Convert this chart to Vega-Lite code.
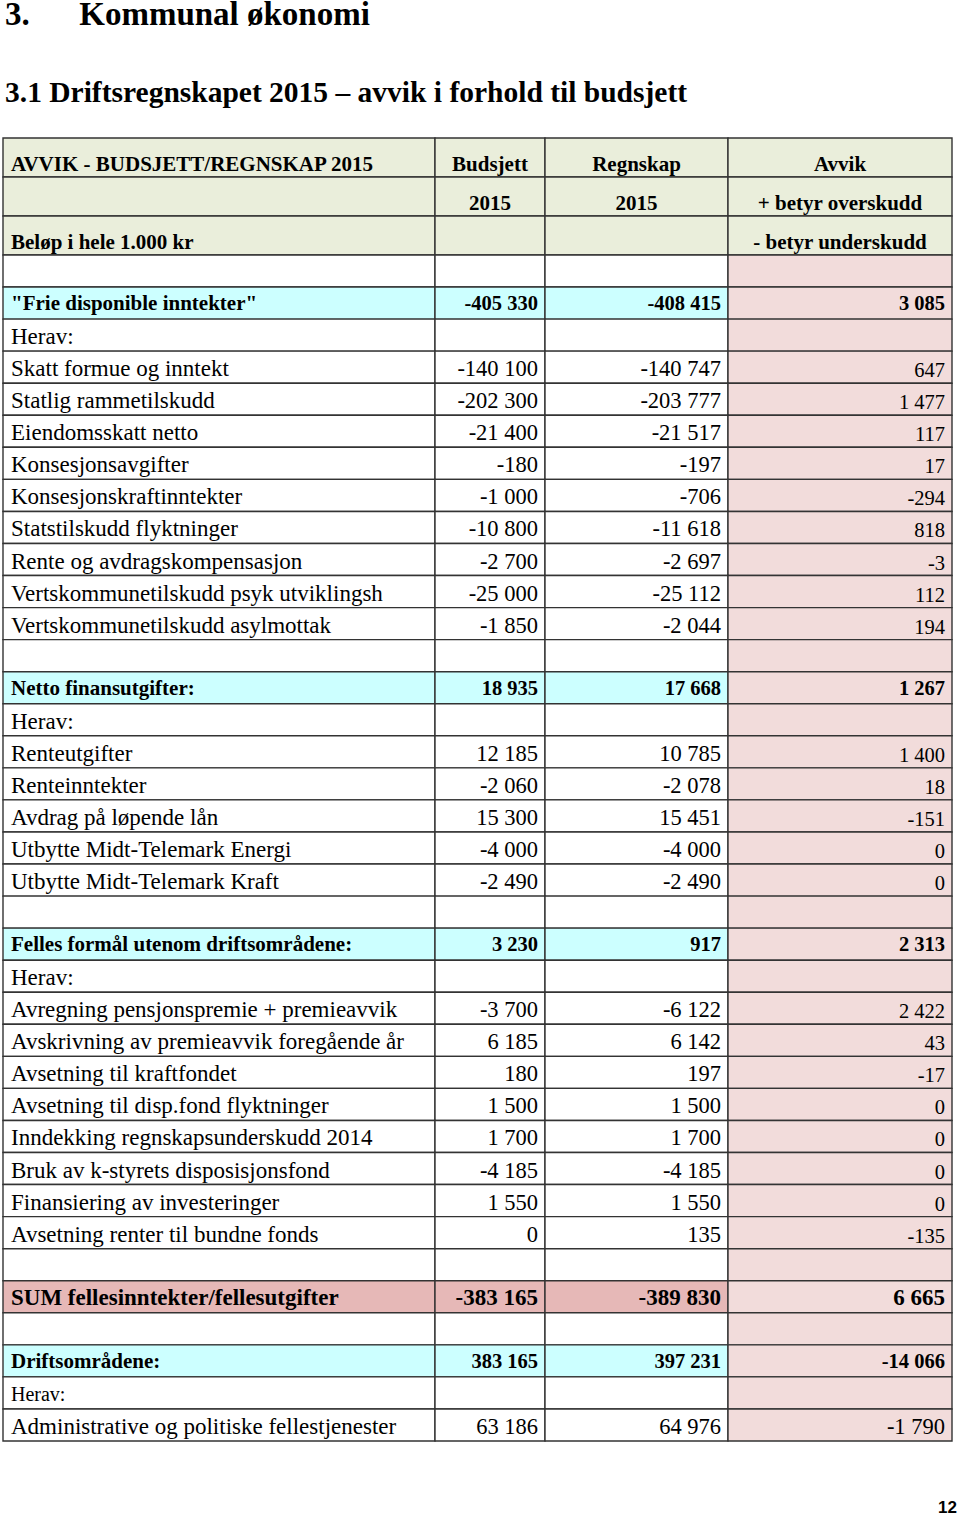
{
  "$schema": "https://vega.github.io/schema/vega-lite/v6.json",
  "width": 960,
  "height": 1516,
  "autosize": "none",
  "padding": 0,
  "background": "#ffffff",
  "config": {
    "view": {"stroke": null},
    "locale": {"number": {"decimal": ",", "thousands": "\u00a0", "grouping": [3], "currency": ["", " kr"], "minus": "-"}},
    "text": {"font": "Liberation Serif", "color": "#000000"}
  },
  "datasets": {
    "cols": [
      {"key": "label", "c0": 0, "c1": 1, "cm": 0.5},
      {"key": "b", "c0": 1, "c1": 2, "cm": 1.5},
      {"key": "rg", "c0": 2, "c1": 3, "cm": 2.5},
      {"key": "a", "c0": 3, "c1": 4, "cm": 3.5}
    ],
    "head": [
      {"hr": 1, "label": "AVVIK - BUDSJETT/REGNSKAP 2015", "b": "Budsjett", "rg": "Regnskap", "a": "Avvik"},
      {"hr": 2, "b": "2015", "rg": "2015", "a": "+ betyr overskudd"},
      {"hr": 3, "label": "Beløp i hele 1.000 kr", "a": "- betyr underskudd"}
    ],
    "body": [
      {"r": 4, "kind": "blank"},
      {"r": 5, "kind": "section", "label": "\"Frie disponible inntekter\"", "b": -405330, "rg": -408415, "a": 3085},
      {"r": 6, "kind": "herav", "label": "Herav:"},
      {"r": 7, "kind": "item", "label": "Skatt formue og inntekt", "b": -140100, "rg": -140747, "a": 647},
      {"r": 8, "kind": "item", "label": "Statlig rammetilskudd", "b": -202300, "rg": -203777, "a": 1477},
      {"r": 9, "kind": "item", "label": "Eiendomsskatt netto", "b": -21400, "rg": -21517, "a": 117},
      {"r": 10, "kind": "item", "label": "Konsesjonsavgifter", "b": -180, "rg": -197, "a": 17},
      {"r": 11, "kind": "item", "label": "Konsesjonskraftinntekter", "b": -1000, "rg": -706, "a": -294},
      {"r": 12, "kind": "item", "label": "Statstilskudd flyktninger", "b": -10800, "rg": -11618, "a": 818},
      {"r": 13, "kind": "item", "label": "Rente og avdragskompensasjon", "b": -2700, "rg": -2697, "a": -3},
      {"r": 14, "kind": "item", "label": "Vertskommunetilskudd psyk utviklingsh", "b": -25000, "rg": -25112, "a": 112},
      {"r": 15, "kind": "item", "label": "Vertskommunetilskudd asylmottak", "b": -1850, "rg": -2044, "a": 194},
      {"r": 16, "kind": "blank"},
      {"r": 17, "kind": "section", "label": "Netto finansutgifter:", "b": 18935, "rg": 17668, "a": 1267},
      {"r": 18, "kind": "herav", "label": "Herav:"},
      {"r": 19, "kind": "item", "label": "Renteutgifter", "b": 12185, "rg": 10785, "a": 1400},
      {"r": 20, "kind": "item", "label": "Renteinntekter", "b": -2060, "rg": -2078, "a": 18},
      {"r": 21, "kind": "item", "label": "Avdrag på løpende lån", "b": 15300, "rg": 15451, "a": -151},
      {"r": 22, "kind": "item", "label": "Utbytte Midt-Telemark Energi", "b": -4000, "rg": -4000, "a": 0},
      {"r": 23, "kind": "item", "label": "Utbytte Midt-Telemark Kraft", "b": -2490, "rg": -2490, "a": 0},
      {"r": 24, "kind": "blank"},
      {"r": 25, "kind": "section", "label": "Felles formål utenom driftsområdene:", "b": 3230, "rg": 917, "a": 2313},
      {"r": 26, "kind": "herav", "label": "Herav:"},
      {"r": 27, "kind": "item", "label": "Avregning pensjonspremie + premieavvik", "b": -3700, "rg": -6122, "a": 2422},
      {"r": 28, "kind": "item", "label": "Avskrivning av premieavvik foregående år", "b": 6185, "rg": 6142, "a": 43},
      {"r": 29, "kind": "item", "label": "Avsetning til kraftfondet", "b": 180, "rg": 197, "a": -17},
      {"r": 30, "kind": "item", "label": "Avsetning til disp.fond flyktninger", "b": 1500, "rg": 1500, "a": 0},
      {"r": 31, "kind": "item", "label": "Inndekking regnskapsunderskudd 2014", "b": 1700, "rg": 1700, "a": 0},
      {"r": 32, "kind": "item", "label": "Bruk av k-styrets disposisjonsfond", "b": -4185, "rg": -4185, "a": 0},
      {"r": 33, "kind": "item", "label": "Finansiering av investeringer", "b": 1550, "rg": 1550, "a": 0},
      {"r": 34, "kind": "item", "label": "Avsetning renter til bundne fonds", "b": 0, "rg": 135, "a": -135},
      {"r": 35, "kind": "blank"},
      {"r": 36, "kind": "sum", "label": "SUM fellesinntekter/fellesutgifter", "b": -383165, "rg": -389830, "a": 6665},
      {"r": 37, "kind": "blank"},
      {"r": 38, "kind": "section", "label": "Driftsområdene:", "b": 383165, "rg": 397231, "a": -14066},
      {"r": 39, "kind": "herav2", "label": "Herav:"},
      {"r": 40, "kind": "last", "label": "Administrative og politiske fellestjenester", "b": 63186, "rg": 64976, "a": -1790}
    ],
    "titles": [
      {"line": 1, "t": "3.\u00a0\u00a0\u00a0\u00a0\u00a0\u00a0Kommunal økonomi"},
      {"line": 2, "t": "3.1 Driftsregnskapet 2015 – avvik i forhold til budsjett"}
    ],
    "page": [{"line": 3, "t": "12"}]
  },
  "resolve": {"scale": {"y": "independent"}},
  "layer": [
    {
      "layer": [
        {
          "data": {"name": "head"},
          "transform": [
            {"fold": ["label", "b", "rg", "a"], "as": ["key", "val"]},
            {"lookup": "key", "from": {"data": {"name": "cols"}, "key": "key", "fields": ["c0", "c1"]}}
          ],
          "mark": {"type": "rect", "fill": "#eaeedb", "stroke": "#333333", "strokeWidth": 1.4},
          "encoding": {
            "x": {"field": "c0", "type": "quantitative", "scale": {"domain": [0, 1, 2, 3, 4], "range": [3, 435, 545, 728, 952], "zero": false, "nice": false}, "axis": null},
            "x2": {"field": "c1"},
            "y": {"field": "hr", "type": "ordinal", "scale": {"type": "band", "domain": [1, 2, 3], "range": [138, 255], "paddingInner": 0, "paddingOuter": 0}, "axis": null}
          }
        },
        {
          "data": {"name": "head"},
          "transform": [{"filter": "isValid(datum.label)"}],
          "mark": {"type": "text", "align": "left", "dx": 8, "dy": 7, "font": "Liberation Serif", "fontSize": 21, "fontWeight": "bold"},
          "encoding": {
            "x": {"datum": 0, "type": "quantitative", "scale": {"domain": [0, 1, 2, 3, 4], "range": [3, 435, 545, 728, 952], "zero": false, "nice": false}, "axis": null},
            "y": {"field": "hr", "type": "ordinal", "scale": {"type": "band", "domain": [1, 2, 3], "range": [138, 255], "paddingInner": 0, "paddingOuter": 0}, "axis": null},
            "text": {"field": "label"}
          }
        },
        {
          "data": {"name": "head"},
          "transform": [
            {"fold": ["b", "rg", "a"], "as": ["key", "val"]},
            {"filter": "isValid(datum.val)"},
            {"lookup": "key", "from": {"data": {"name": "cols"}, "key": "key", "fields": ["cm"]}}
          ],
          "mark": {"type": "text", "align": "center", "dy": 7, "font": "Liberation Serif", "fontSize": 21, "fontWeight": "bold"},
          "encoding": {
            "x": {"field": "cm", "type": "quantitative", "scale": {"domain": [0, 1, 2, 3, 4], "range": [3, 435, 545, 728, 952], "zero": false, "nice": false}, "axis": null},
            "y": {"field": "hr", "type": "ordinal", "scale": {"type": "band", "domain": [1, 2, 3], "range": [138, 255], "paddingInner": 0, "paddingOuter": 0}, "axis": null},
            "text": {"field": "val"}
          }
        }
      ]
    },
    {
      "layer": [
        {
          "data": {"name": "body"},
          "transform": [
            {"fold": ["label", "b", "rg", "a"], "as": ["key", "val"]},
            {"lookup": "key", "from": {"data": {"name": "cols"}, "key": "key", "fields": ["c0", "c1"]}}
          ],
          "mark": {"type": "rect", "stroke": "#333333", "strokeWidth": 1.4},
          "encoding": {
            "x": {"field": "c0", "type": "quantitative", "scale": {"domain": [0, 1, 2, 3, 4], "range": [3, 435, 545, 728, 952], "zero": false, "nice": false}, "axis": null},
            "x2": {"field": "c1"},
            "y": {"field": "r", "type": "ordinal", "scale": {"type": "band", "domain": [4, 5, 6, 7, 8, 9, 10, 11, 12, 13, 14, 15, 16, 17, 18, 19, 20, 21, 22, 23, 24, 25, 26, 27, 28, 29, 30, 31, 32, 33, 34, 35, 36, 37, 38, 39, 40], "range": [255, 1441], "paddingInner": 0, "paddingOuter": 0}, "axis": null},
            "fill": {
              "condition": [
                {"test": "datum.key == 'a'", "value": "#f2dcdb"},
                {"test": "datum.kind == 'section'", "value": "#ccffff"},
                {"test": "datum.kind == 'sum'", "value": "#e6b8b7"}
              ],
              "value": "#ffffff"
            }
          }
        },
        {
          "data": {"name": "body"},
          "transform": [{"filter": "datum.kind == 'item' || datum.kind == 'herav' || datum.kind == 'herav2' || datum.kind == 'last'"}],
          "mark": {"type": "text", "align": "left", "dx": 8, "dy": 2, "font": "Liberation Serif"},
          "encoding": {
            "x": {"datum": 0, "type": "quantitative", "scale": {"domain": [0, 1, 2, 3, 4], "range": [3, 435, 545, 728, 952], "zero": false, "nice": false}, "axis": null},
            "y": {"field": "r", "type": "ordinal", "scale": {"type": "band", "domain": [4, 5, 6, 7, 8, 9, 10, 11, 12, 13, 14, 15, 16, 17, 18, 19, 20, 21, 22, 23, 24, 25, 26, 27, 28, 29, 30, 31, 32, 33, 34, 35, 36, 37, 38, 39, 40], "range": [255, 1441], "paddingInner": 0, "paddingOuter": 0}, "axis": null},
            "text": {"field": "label"},
            "size": {"condition": {"test": "datum.kind == 'herav2'", "value": 20}, "value": 23}
          }
        },
        {
          "data": {"name": "body"},
          "transform": [{"filter": "datum.kind == 'section' || datum.kind == 'sum'"}],
          "mark": {"type": "text", "align": "left", "dx": 8, "dy": 1, "font": "Liberation Serif", "fontWeight": "bold"},
          "encoding": {
            "x": {"datum": 0, "type": "quantitative", "scale": {"domain": [0, 1, 2, 3, 4], "range": [3, 435, 545, 728, 952], "zero": false, "nice": false}, "axis": null},
            "y": {"field": "r", "type": "ordinal", "scale": {"type": "band", "domain": [4, 5, 6, 7, 8, 9, 10, 11, 12, 13, 14, 15, 16, 17, 18, 19, 20, 21, 22, 23, 24, 25, 26, 27, 28, 29, 30, 31, 32, 33, 34, 35, 36, 37, 38, 39, 40], "range": [255, 1441], "paddingInner": 0, "paddingOuter": 0}, "axis": null},
            "text": {"field": "label"},
            "size": {"condition": {"test": "datum.kind == 'sum'", "value": 23}, "value": 21}
          }
        },
        {
          "data": {"name": "body"},
          "transform": [
            {"filter": "datum.kind == 'item' || datum.kind == 'last'"},
            {"fold": ["b", "rg", "a"], "as": ["key", "val"]},
            {"filter": "isValid(datum.val)"},
            {"filter": "datum.key != 'a' || datum.kind == 'last'"},
            {"lookup": "key", "from": {"data": {"name": "cols"}, "key": "key", "fields": ["c1"]}}
          ],
          "mark": {"type": "text", "align": "right", "dx": -7, "dy": 2, "font": "Liberation Serif", "fontSize": 22.5},
          "encoding": {
            "x": {"field": "c1", "type": "quantitative", "scale": {"domain": [0, 1, 2, 3, 4], "range": [3, 435, 545, 728, 952], "zero": false, "nice": false}, "axis": null},
            "y": {"field": "r", "type": "ordinal", "scale": {"type": "band", "domain": [4, 5, 6, 7, 8, 9, 10, 11, 12, 13, 14, 15, 16, 17, 18, 19, 20, 21, 22, 23, 24, 25, 26, 27, 28, 29, 30, 31, 32, 33, 34, 35, 36, 37, 38, 39, 40], "range": [255, 1441], "paddingInner": 0, "paddingOuter": 0}, "axis": null},
            "text": {"field": "val", "type": "quantitative", "format": ",d"}
          }
        },
        {
          "data": {"name": "body"},
          "transform": [
            {"filter": "datum.kind == 'item'"},
            {"fold": ["a"], "as": ["key", "val"]},
            {"filter": "isValid(datum.val)"},
            {"lookup": "key", "from": {"data": {"name": "cols"}, "key": "key", "fields": ["c1"]}}
          ],
          "mark": {"type": "text", "align": "right", "dx": -7, "dy": 4, "font": "Liberation Serif", "fontSize": 20.5},
          "encoding": {
            "x": {"field": "c1", "type": "quantitative", "scale": {"domain": [0, 1, 2, 3, 4], "range": [3, 435, 545, 728, 952], "zero": false, "nice": false}, "axis": null},
            "y": {"field": "r", "type": "ordinal", "scale": {"type": "band", "domain": [4, 5, 6, 7, 8, 9, 10, 11, 12, 13, 14, 15, 16, 17, 18, 19, 20, 21, 22, 23, 24, 25, 26, 27, 28, 29, 30, 31, 32, 33, 34, 35, 36, 37, 38, 39, 40], "range": [255, 1441], "paddingInner": 0, "paddingOuter": 0}, "axis": null},
            "text": {"field": "val", "type": "quantitative", "format": ",d"}
          }
        },
        {
          "data": {"name": "body"},
          "transform": [
            {"filter": "datum.kind == 'section' || datum.kind == 'sum'"},
            {"fold": ["b", "rg", "a"], "as": ["key", "val"]},
            {"filter": "isValid(datum.val)"},
            {"lookup": "key", "from": {"data": {"name": "cols"}, "key": "key", "fields": ["c1"]}}
          ],
          "mark": {"type": "text", "align": "right", "dx": -7, "dy": 1, "font": "Liberation Serif", "fontWeight": "bold"},
          "encoding": {
            "x": {"field": "c1", "type": "quantitative", "scale": {"domain": [0, 1, 2, 3, 4], "range": [3, 435, 545, 728, 952], "zero": false, "nice": false}, "axis": null},
            "y": {"field": "r", "type": "ordinal", "scale": {"type": "band", "domain": [4, 5, 6, 7, 8, 9, 10, 11, 12, 13, 14, 15, 16, 17, 18, 19, 20, 21, 22, 23, 24, 25, 26, 27, 28, 29, 30, 31, 32, 33, 34, 35, 36, 37, 38, 39, 40], "range": [255, 1441], "paddingInner": 0, "paddingOuter": 0}, "axis": null},
            "text": {"field": "val", "type": "quantitative", "format": ",d"},
            "size": {"condition": {"test": "datum.kind == 'sum'", "value": 23}, "value": 20.5}
          }
        }
      ]
    },
    {
      "layer": [
        {
          "data": {"name": "titles"},
          "mark": {"type": "text", "align": "left", "baseline": "alphabetic", "dx": 2, "font": "Liberation Serif", "fontWeight": "bold"},
          "encoding": {
            "x": {"datum": 0, "type": "quantitative", "scale": {"domain": [0, 1, 2, 3, 4], "range": [3, 435, 545, 728, 952], "zero": false, "nice": false}, "axis": null},
            "y": {"field": "line", "type": "quantitative", "scale": {"domain": [1, 2, 3], "range": [25, 102, 1513], "zero": false, "nice": false}, "axis": null},
            "text": {"field": "t"},
            "size": {"condition": {"test": "datum.line == 1", "value": 33}, "value": 29.5}
          }
        },
        {
          "data": {"name": "page"},
          "mark": {"type": "text", "align": "right", "baseline": "alphabetic", "dx": 5, "font": "Liberation Sans", "fontSize": 17, "fontWeight": "bold"},
          "encoding": {
            "x": {"datum": 4, "type": "quantitative", "scale": {"domain": [0, 1, 2, 3, 4], "range": [3, 435, 545, 728, 952], "zero": false, "nice": false}, "axis": null},
            "y": {"field": "line", "type": "quantitative", "scale": {"domain": [1, 2, 3], "range": [25, 102, 1513], "zero": false, "nice": false}, "axis": null},
            "text": {"field": "t"}
          }
        }
      ]
    }
  ]
}
